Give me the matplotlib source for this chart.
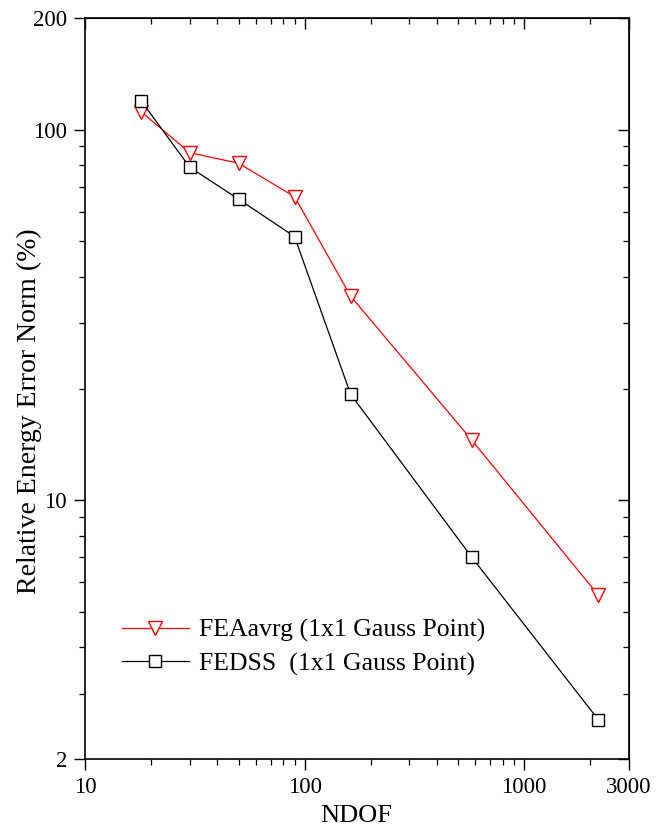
import matplotlib
matplotlib.use("Agg")
import matplotlib.pyplot as plt
from matplotlib.ticker import FixedLocator, NullFormatter, LogLocator

# Data
ndof = [18, 30, 50, 90, 162, 578, 2178]
feaavrg = [111.7, 86.6, 81.1, 65.9, 35.5, 14.5, 5.53]
fedss = [119.6, 79.1, 64.9, 51.4, 19.3, 7.0, 2.55]
series_labels = ["FEAavrg (1x1 Gauss Point)", "FEDSS  (1x1 Gauss Point)"]
xticks = [10, 100, 1000, 3000]
yticks = [2, 10, 100, 200]

plt.rcParams['font.family'] = ['Liberation Serif', 'DejaVu Serif']

fig = plt.figure(figsize=(6.68, 8.32), dpi=100)
ax = fig.add_axes([85/668, 1-759/832, (629-85)/668, (759-18)/832])

ax.plot(ndof, feaavrg, color='red', lw=0.9, marker='v', ms=10,
        mfc='white', mec='red', mew=1.0, label=series_labels[0])
ax.plot(ndof, fedss, color='black', lw=0.9, marker='s', ms=8,
        mfc='white', mec='black', mew=1.0, label=series_labels[1])

ax.set_xscale('log')
ax.set_yscale('log')
ax.set_xlim(10, 3000)
ax.set_ylim(2, 200)

ax.xaxis.set_major_locator(FixedLocator(xticks))
ax.yaxis.set_major_locator(FixedLocator(yticks))
ax.set_xticklabels([str(t) for t in xticks])
ax.set_yticklabels([str(t) for t in yticks])
ax.xaxis.set_minor_locator(LogLocator(base=10, subs=range(2, 10)))
ax.yaxis.set_minor_locator(LogLocator(base=10, subs=range(2, 10)))
ax.xaxis.set_minor_formatter(NullFormatter())
ax.yaxis.set_minor_formatter(NullFormatter())

ax.tick_params(which='major', direction='out', length=8, width=1.0, labelsize=16.5, pad=5)
ax.tick_params(which='minor', direction='out', length=4, width=0.9)
ax.tick_params(top=False, right=False)

for sp in ax.spines.values():
    sp.set_linewidth(1.2)

secx = ax.secondary_xaxis('top')
secx.xaxis.set_major_locator(FixedLocator(xticks))
secx.xaxis.set_minor_locator(LogLocator(base=10, subs=range(2, 10)))
secx.xaxis.set_major_formatter(NullFormatter())
secx.xaxis.set_minor_formatter(NullFormatter())
secx.tick_params(which='major', direction='in', length=8, width=1.0)
secx.tick_params(which='minor', direction='in', length=4, width=0.9)

secy = ax.secondary_yaxis('right')
secy.yaxis.set_major_locator(FixedLocator(yticks))
secy.yaxis.set_minor_locator(LogLocator(base=10, subs=range(2, 10)))
secy.yaxis.set_major_formatter(NullFormatter())
secy.yaxis.set_minor_formatter(NullFormatter())
secy.tick_params(which='major', direction='in', length=8, width=1.0)
secy.tick_params(which='minor', direction='in', length=4, width=0.9)

ax.set_xlabel('NDOF', fontsize=19)
ax.set_ylabel('Relative Energy Error Norm (%)', fontsize=20)
ax.xaxis.set_label_coords(0.498, -0.062)
ax.yaxis.set_label_coords(-0.079, 0.470)

ax.legend(loc='upper left', bbox_to_anchor=(0.068, 0.189), frameon=False,
          borderaxespad=0, borderpad=0,
          fontsize=18.5, handlelength=2.6, handletextpad=0.4, labelspacing=0.38)

fig.savefig('out.png', dpi=100)
